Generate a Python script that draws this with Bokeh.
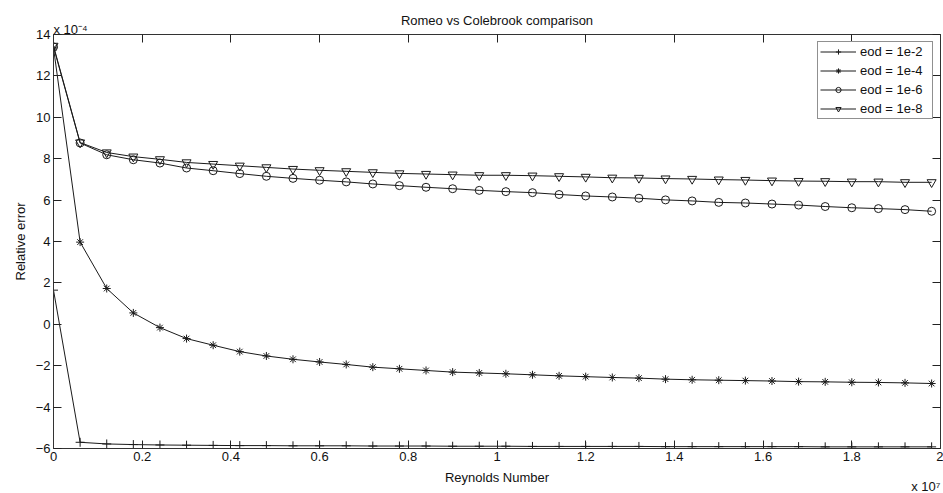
from bokeh.plotting import figure
from bokeh.models import Range1d, FixedTicker, LinearAxis, Label, Legend, LegendItem
from bokeh.embed import file_html
from bokeh.resources import INLINE

# Reynolds number, in units of 1e7
reynolds = [0.00, 0.06, 0.12, 0.18, 0.24, 0.30, 0.36, 0.42, 0.48, 0.54,
            0.60, 0.66, 0.72, 0.78, 0.84, 0.90, 0.96, 1.02, 1.08, 1.14,
            1.20, 1.26, 1.32, 1.38, 1.44, 1.50, 1.56, 1.62, 1.68, 1.74,
            1.80, 1.86, 1.92, 1.98]

# Relative error, in units of 1e-4
err_eod_1e2 = [1.65, -5.70, -5.78, -5.81, -5.83, -5.84, -5.85, -5.86, -5.86, -5.87,
               -5.87, -5.87, -5.88, -5.88, -5.88, -5.89, -5.89, -5.89, -5.90, -5.90,
               -5.90, -5.90, -5.90, -5.91, -5.91, -5.91, -5.91, -5.91, -5.91, -5.92,
               -5.92, -5.92, -5.92, -5.92]
err_eod_1e4 = [13.35, 3.97, 1.73, 0.55, -0.16, -0.69, -1.01, -1.32, -1.53, -1.69,
               -1.82, -1.94, -2.07, -2.15, -2.23, -2.31, -2.35, -2.39, -2.44, -2.49,
               -2.53, -2.57, -2.60, -2.65, -2.68, -2.70, -2.72, -2.74, -2.77, -2.78,
               -2.80, -2.81, -2.83, -2.86]
err_eod_1e6 = [13.40, 8.76, 8.19, 7.95, 7.79, 7.55, 7.42, 7.28, 7.15, 7.05,
               6.96, 6.88, 6.78, 6.70, 6.62, 6.55, 6.47, 6.41, 6.36, 6.27,
               6.20, 6.15, 6.09, 6.01, 5.96, 5.89, 5.86, 5.81, 5.76, 5.69,
               5.63, 5.59, 5.54, 5.46]
err_eod_1e8 = [13.45, 8.78, 8.30, 8.10, 7.97, 7.82, 7.74, 7.66, 7.58, 7.50,
               7.44, 7.39, 7.34, 7.29, 7.26, 7.23, 7.20, 7.20, 7.18, 7.15,
               7.12, 7.08, 7.07, 7.04, 7.02, 6.99, 6.97, 6.94, 6.92, 6.91,
               6.89, 6.89, 6.86, 6.86]

series_labels = ["eod = 1e-2", "eod = 1e-4", "eod = 1e-6", "eod = 1e-8"]
x_ticks = [0, 0.2, 0.4, 0.6, 0.8, 1.0, 1.2, 1.4, 1.6, 1.8, 2.0]
y_ticks = [-6, -4, -2, 0, 2, 4, 6, 8, 10, 12, 14]
title_text = "Romeo vs Colebrook comparison"
x_label = "Reynolds Number"
y_label = "Relative error"
y_multiplier = "x 10\u207b\u2074"
x_multiplier = "x 10\u2077"

FONT = "Liberation Sans"
TXT = "#111111"

p = figure(width=943, height=493, output_backend="svg", toolbar_location=None,
           title=None,
           x_range=Range1d(0, 2), y_range=Range1d(-6, 14),
           min_border_left=53, min_border_right=3, min_border_top=34, min_border_bottom=44,
           background_fill_color="white", border_fill_color="white")
p.outline_line_color = None
p.grid.visible = False


def style_axis(ax, labels=True):
    ax.major_tick_in = 8
    ax.major_tick_out = 0
    ax.minor_tick_line_color = None
    ax.axis_line_color = "#333333"
    ax.major_tick_line_color = "#222222"
    ax.major_label_text_font = FONT
    ax.major_label_text_font_size = "13px" if labels else "1px"
    ax.major_label_text_color = TXT if labels else None
    ax.axis_label_text_font = FONT
    ax.axis_label_text_font_size = "13px"
    ax.axis_label_text_font_style = "normal"
    ax.axis_label_text_color = TXT


p.xaxis.ticker = FixedTicker(ticks=x_ticks)
p.xaxis.major_label_overrides = {0: "0", 2: "2"}
style_axis(p.xaxis[0])
p.xaxis.major_label_standoff = 3

p.yaxis.ticker = FixedTicker(ticks=y_ticks)
p.yaxis.axis_label = y_label
style_axis(p.yaxis[0])
p.yaxis.major_label_standoff = 3
p.yaxis.axis_label_standoff = 5

top = LinearAxis(ticker=FixedTicker(ticks=x_ticks), major_label_standoff=0)
style_axis(top, labels=False)
p.add_layout(top, "above")
right = LinearAxis(ticker=FixedTicker(ticks=y_ticks), major_label_standoff=0)
style_axis(right, labels=False)
p.add_layout(right, "right")

LINE = "#1a1a1a"
items = []
series = [err_eod_1e2, err_eod_1e4, err_eod_1e6, err_eod_1e8]
markers = ["cross", "asterisk", "circle", "inverted_triangle"]
sizes = [9, 8, 8, 9]
for ys, mk, sz, lab in zip(series, markers, sizes, series_labels):
    lr = p.line(reynolds, ys, line_color=LINE, line_width=1)
    sr = p.scatter(reynolds, ys, marker=mk, size=sz, line_color=LINE, line_width=1,
                   fill_color=None)
    items.append(LegendItem(label=lab, renderers=[lr, sr]))

legend = Legend(items=items, location="top_right")
legend.label_text_font = FONT
legend.label_text_font_size = "13px"
legend.label_text_color = TXT
legend.border_line_color = "#222222"
legend.border_line_width = 1
legend.background_fill_color = "white"
legend.background_fill_alpha = 1
legend.glyph_width = 36
legend.glyph_height = 13
legend.label_height = 13
legend.label_width = 70
legend.label_standoff = 4
legend.spacing = 4
legend.padding = 2
legend.margin = 7
p.add_layout(legend)

# texts outside the frame, placed in side panels so that they are not clipped
title_lbl = Label(x=1, y=14, text=title_text, y_offset=14, text_align="center",
                  text_baseline="middle", text_font=FONT, text_font_size="13px",
                  text_color=TXT)
ymult_lbl = Label(x=0, y=14, text=y_multiplier, x_offset=0, y_offset=5,
                  text_baseline="alphabetic", text_font=FONT, text_font_size="13px",
                  text_color=TXT)
xlab_lbl = Label(x=1, y=-6, text=x_label, y_offset=-29, text_align="center",
                 text_baseline="middle", text_font=FONT, text_font_size="13px",
                 text_color=TXT)
xmult_lbl = Label(x=2, y=-6, text=x_multiplier, x_offset=0, y_offset=-38,
                  text_align="right", text_baseline="alphabetic", text_font=FONT,
                  text_font_size="13px", text_color=TXT)
p.add_layout(title_lbl, "above")
p.add_layout(ymult_lbl, "above")
p.add_layout(xlab_lbl, "below")
p.add_layout(xmult_lbl, "below")

open("out.html", "w").write(file_html(p, INLINE))
